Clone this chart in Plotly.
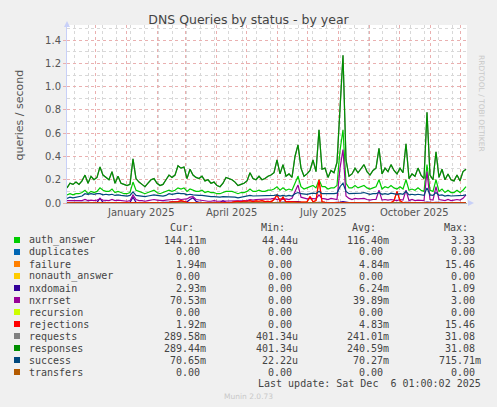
import pandas as pd
import plotly.graph_objects as go

# one sample every 3 days, Munin "by year" view (400 days)
dates = pd.date_range("2024-11-03", periods=134, freq="3D")

responses = [
    0.13, 0.17, 0.16, 0.18, 0.16, 0.19, 0.24, 0.17, 0.23, 0.20,
    0.22, 0.31, 0.24, 0.22, 0.20, 0.27, 0.17, 0.23, 0.17, 0.16,
    0.15, 0.16, 0.38, 0.21, 0.18, 0.16, 0.14, 0.17, 0.20, 0.21,
    0.17, 0.15, 0.16, 0.20, 0.24, 0.22, 0.24, 0.32, 0.30, 0.31,
    0.21, 0.29, 0.24, 0.22, 0.21, 0.23, 0.19, 0.20, 0.17, 0.18,
    0.15, 0.14, 0.17, 0.22, 0.21, 0.20, 0.18, 0.15, 0.16, 0.17,
    0.19, 0.26, 0.21, 0.20, 0.23, 0.20, 0.21, 0.23, 0.24, 0.26,
    0.37, 0.25, 0.33, 0.23, 0.25, 0.22, 0.40, 0.50, 0.30, 0.23,
    0.25, 0.28, 0.37, 0.27, 0.63, 0.29, 0.30, 0.22, 0.28, 0.26,
    0.35, 0.85, 1.27, 0.37, 0.23, 0.25, 0.30, 0.26, 0.30, 0.33,
    0.27, 0.24, 0.28, 0.30, 0.47, 0.25, 0.30, 0.27, 0.33, 0.28,
    0.25, 0.30, 0.26, 0.51, 0.21, 0.25, 0.23, 0.30, 0.24, 0.21,
    0.78, 0.24, 0.20, 0.44, 0.22, 0.29, 0.20, 0.25, 0.20, 0.19,
    0.24, 0.19, 0.27, 0.29,
]
requests = list(responses)  # drawn under responses, practically identical

auth_answer = [
    0.07, 0.08, 0.07, 0.08, 0.08, 0.09, 0.11, 0.08, 0.10, 0.09,
    0.10, 0.13, 0.11, 0.10, 0.10, 0.12, 0.09, 0.10, 0.09, 0.08,
    0.08, 0.09, 0.18, 0.11, 0.10, 0.09, 0.08, 0.09, 0.10, 0.11,
    0.09, 0.08, 0.09, 0.10, 0.11, 0.10, 0.11, 0.13, 0.12, 0.13,
    0.10, 0.12, 0.11, 0.10, 0.10, 0.11, 0.09, 0.10, 0.09, 0.09,
    0.08, 0.08, 0.09, 0.10, 0.10, 0.10, 0.09, 0.08, 0.09, 0.09,
    0.10, 0.12, 0.10, 0.10, 0.11, 0.10, 0.10, 0.11, 0.11, 0.12,
    0.14, 0.11, 0.13, 0.11, 0.12, 0.11, 0.17, 0.23, 0.14, 0.12,
    0.13, 0.14, 0.15, 0.13, 0.20, 0.14, 0.14, 0.12, 0.13, 0.13,
    0.15, 0.45, 0.63, 0.17, 0.13, 0.13, 0.15, 0.13, 0.14, 0.15,
    0.13, 0.12, 0.13, 0.14, 0.20, 0.12, 0.14, 0.13, 0.15, 0.13,
    0.12, 0.14, 0.12, 0.20, 0.11, 0.12, 0.11, 0.13, 0.11, 0.10,
    0.33, 0.11, 0.10, 0.20, 0.10, 0.12, 0.09, 0.11, 0.09, 0.09,
    0.11, 0.09, 0.11, 0.14,
]

success = [
    0.040, 0.050, 0.045, 0.050, 0.050, 0.060, 0.080, 0.075, 0.080, 0.075,
    0.080, 0.080, 0.070, 0.075, 0.070, 0.075, 0.065, 0.070, 0.065, 0.060,
    0.060, 0.065, 0.095, 0.065, 0.060, 0.060, 0.055, 0.060, 0.065, 0.070,
    0.065, 0.060, 0.060, 0.065, 0.080, 0.075, 0.080, 0.085, 0.080, 0.080,
    0.070, 0.075, 0.070, 0.065, 0.065, 0.065, 0.060, 0.060, 0.055, 0.055,
    0.050, 0.050, 0.055, 0.055, 0.055, 0.050, 0.050, 0.045, 0.050, 0.050,
    0.055, 0.065, 0.060, 0.060, 0.065, 0.060, 0.060, 0.060, 0.060, 0.065,
    0.070, 0.060, 0.065, 0.060, 0.065, 0.060, 0.080, 0.090, 0.080, 0.075,
    0.075, 0.080, 0.085, 0.080, 0.100, 0.080, 0.080, 0.075, 0.080, 0.080,
    0.085, 0.140, 0.170, 0.100, 0.080, 0.080, 0.085, 0.080, 0.085, 0.090,
    0.080, 0.075, 0.080, 0.080, 0.090, 0.075, 0.080, 0.075, 0.085, 0.080,
    0.075, 0.080, 0.075, 0.100, 0.070, 0.075, 0.070, 0.075, 0.070, 0.065,
    0.130, 0.070, 0.065, 0.090, 0.065, 0.070, 0.060, 0.065, 0.060, 0.060,
    0.065, 0.060, 0.065, 0.070,
]

nxrrset = [
    0.020, 0.020, 0.025, 0.020, 0.025, 0.020, 0.030, 0.020, 0.025, 0.020,
    0.025, 0.035, 0.025, 0.020, 0.020, 0.030, 0.020, 0.025, 0.020, 0.020,
    0.015, 0.020, 0.070, 0.030, 0.020, 0.020, 0.015, 0.020, 0.025, 0.030,
    0.025, 0.020, 0.020, 0.025, 0.030, 0.030, 0.030, 0.035, 0.030, 0.030,
    0.035, 0.050, 0.055, 0.030, 0.025, 0.020, 0.020, 0.015, 0.015, 0.020,
    0.015, 0.015, 0.020, 0.020, 0.020, 0.015, 0.020, 0.015, 0.020, 0.020,
    0.020, 0.030, 0.025, 0.030, 0.030, 0.030, 0.035, 0.030, 0.035, 0.040,
    0.030, 0.035, 0.030, 0.035, 0.030, 0.040, 0.100, 0.155, 0.050, 0.040,
    0.035, 0.040, 0.040, 0.035, 0.070, 0.040, 0.035, 0.030, 0.040, 0.035,
    0.030, 0.300, 0.460, 0.060, 0.040, 0.030, 0.040, 0.035, 0.040, 0.040,
    0.030, 0.025, 0.030, 0.030, 0.110, 0.025, 0.030, 0.025, 0.030, 0.025,
    0.020, 0.030, 0.025, 0.110, 0.020, 0.030, 0.020, 0.025, 0.020, 0.020,
    0.270, 0.030, 0.025, 0.140, 0.030, 0.025, 0.020, 0.030, 0.020, 0.025,
    0.030, 0.025, 0.040, 0.070,
]

nxdomain = [
    0.004, 0.005, 0.004, 0.006, 0.005, 0.004, 0.006, 0.005, 0.004, 0.005,
    0.006, 0.040, 0.006, 0.005, 0.004, 0.006, 0.005, 0.004, 0.005, 0.004,
    0.004, 0.005, 0.050, 0.006, 0.005, 0.004, 0.005, 0.004, 0.005, 0.006,
    0.005, 0.004, 0.005, 0.006, 0.008, 0.010, 0.008, 0.006, 0.008, 0.007,
    0.010, 0.030, 0.045, 0.015, 0.006, 0.005, 0.004, 0.005, 0.004, 0.004,
    0.005, 0.004, 0.020, 0.006, 0.004, 0.005, 0.004, 0.004, 0.005, 0.004,
    0.004, 0.005, 0.004, 0.005, 0.004, 0.005, 0.004, 0.004, 0.005, 0.004,
    0.005, 0.004, 0.005, 0.004, 0.004, 0.005, 0.008, 0.012, 0.005, 0.004,
    0.004, 0.005, 0.004, 0.004, 0.006, 0.004, 0.004, 0.003, 0.004, 0.004,
    0.004, 0.008, 0.012, 0.005, 0.004, 0.003, 0.004, 0.003, 0.004, 0.004,
    0.003, 0.003, 0.004, 0.003, 0.006, 0.003, 0.004, 0.003, 0.003, 0.004,
    0.003, 0.003, 0.004, 0.006, 0.003, 0.003, 0.004, 0.003, 0.003, 0.003,
    0.008, 0.003, 0.003, 0.005, 0.003, 0.003, 0.003, 0.004, 0.003, 0.003,
    0.003, 0.004, 0.003, 0.003,
]

rejections = [
    0.001, 0.002, 0.001, 0.001, 0.002, 0.001, 0.002, 0.001, 0.001, 0.002,
    0.001, 0.002, 0.001, 0.001, 0.002, 0.001, 0.001, 0.002, 0.001, 0.001,
    0.002, 0.001, 0.003, 0.001, 0.002, 0.001, 0.001, 0.002, 0.001, 0.001,
    0.002, 0.001, 0.002, 0.003, 0.005, 0.010, 0.008, 0.012, 0.020, 0.010,
    0.005, 0.004, 0.003, 0.002, 0.002, 0.003, 0.002, 0.002, 0.003, 0.002,
    0.002, 0.003, 0.002, 0.002, 0.003, 0.005, 0.012, 0.015, 0.010, 0.018,
    0.015, 0.020, 0.012, 0.018, 0.015, 0.020, 0.012, 0.015, 0.010, 0.030,
    0.070, 0.015, 0.050, 0.010, 0.012, 0.008, 0.010, 0.008, 0.006, 0.008,
    0.010, 0.055, 0.010, 0.020, 0.200, 0.010, 0.005, 0.004, 0.003, 0.004,
    0.003, 0.004, 0.005, 0.003, 0.002, 0.003, 0.002, 0.003, 0.002, 0.002,
    0.002, 0.003, 0.002, 0.002, 0.003, 0.002, 0.002, 0.003, 0.002, 0.020,
    0.100, 0.020, 0.003, 0.002, 0.002, 0.003, 0.002, 0.002, 0.003, 0.002,
    0.003, 0.002, 0.002, 0.003, 0.002, 0.002, 0.003, 0.002, 0.002, 0.002,
    0.002, 0.003, 0.002, 0.002,
]
failure = list(rejections)  # same counts as rejections

zeros = [0.0] * len(dates)

# legend table (text as printed by munin)
names = ["auth_answer", "duplicates", "failure", "nonauth_answer", "nxdomain",
         "nxrrset", "recursion", "rejections", "requests", "responses",
         "success", "transfers"]
colors = ["#00CC00", "#0066B3", "#FF8000", "#FFCC00", "#330099", "#990099",
          "#CCFF00", "#FF0000", "#808080", "#008F00", "#00487D", "#B35A00"]
cur = ["144.11m", "0.00", "1.94m", "0.00", "2.93m", "70.53m", "0.00", "1.92m",
       "289.58m", "289.44m", "70.65m", "0.00"]
mins = ["44.44u", "0.00", "0.00", "0.00", "0.00", "0.00", "0.00", "0.00",
        "401.34u", "401.34u", "22.22u", "0.00"]
avgs = ["116.40m", "0.00", "4.84m", "0.00", "6.24m", "39.89m", "0.00", "4.83m",
        "241.01m", "240.59m", "70.27m", "0.00"]
maxs = ["3.33", "0.00", "15.46", "0.00", "1.09", "3.00", "0.00", "15.46",
        "31.08", "31.08", "715.71m", "0.00"]

month_labels = ["January 2025", "April 2025", "July 2025", "October 2025"]
month_label_dates = ["2025-01-16", "2025-04-16", "2025-07-17", "2025-10-16"]

series = {
    "auth_answer": auth_answer, "duplicates": zeros, "failure": failure,
    "nonauth_answer": zeros, "nxdomain": nxdomain, "nxrrset": nxrrset,
    "recursion": zeros, "rejections": rejections, "requests": requests,
    "responses": responses, "success": success, "transfers": zeros,
}

# pixel helpers (plot area in the 497x407 picture)
L, R, T, B = 67, 467, 25, 203


def px(x):
    return (x - L) / (R - L)


def py(y):
    return (B - y) / (B - T)


fig = go.Figure()
for name, col in zip(names, colors):
    fig.add_trace(go.Scatter(x=dates, y=series[name], name=name, mode="lines",
                             line=dict(color=col, width=1.2), hoverinfo="skip"))

font = "DejaVu Sans"
mono = "DejaVu Sans Mono"
ann = []
shapes = []

# x labels in the middle of the month
for lab, d in zip(month_labels, month_label_dates):
    ann.append(dict(x=d, xref="x", y=py(212), yref="paper", text=lab,
                    showarrow=False, xanchor="center", yanchor="middle",
                    font=dict(family=font, size=10, color="#555")))

ann.append(dict(x=px(10), y=py(115), xref="paper", yref="paper",
                text="queries / second", textangle=-90, showarrow=False,
                font=dict(family=font, size=11, color="#555")))
ann.append(dict(x=px(488), y=py(53), xref="paper", yref="paper",
                text="RRDTOOL / TOBI OETIKER", textangle=90, showarrow=False,
                font=dict(family=font, size=7.5, color="#c8c8c8")))

# legend table
col_right = [208, 300, 391, 483]
hdr = ["Cur:", "Min:", "Avg:", "Max:"]
hdr_right = [196, 287, 378, 470]
for h, xr in zip(hdr, hdr_right):
    ann.append(dict(x=px(xr), y=py(227.5), xref="paper", yref="paper", text=h,
                    showarrow=False, xanchor="right", yanchor="middle",
                    font=dict(family=mono, size=10, color="#444")))

for i, name in enumerate(names):
    yc = 240 + 12 * i
    shapes.append(dict(type="rect", xref="paper", yref="paper",
                       x0=px(14), x1=px(20), y0=py(yc - 3), y1=py(yc + 3),
                       fillcolor=colors[i], line=dict(width=0)))
    ann.append(dict(x=px(26.5), y=py(yc), xref="paper", yref="paper", text=name,
                    showarrow=False, xanchor="left", yanchor="middle",
                    font=dict(family=mono, size=10, color="#444")))
    for vals, xr in zip([cur, mins, avgs, maxs], col_right):
        v = vals[i]
        x_end = xr if v[-1].isalpha() else xr - 6
        ann.append(dict(x=px(x_end), y=py(yc), xref="paper", yref="paper",
                        text=v, showarrow=False, xanchor="right",
                        yanchor="middle",
                        font=dict(family=mono, size=10, color="#444")))

ann.append(dict(x=px(483), y=py(383.5), xref="paper", yref="paper",
                text="Last update: Sat Dec&nbsp;&nbsp;6 01:00:02 2025",
                showarrow=False, xanchor="right", yanchor="middle",
                font=dict(family=mono, size=10, color="#444")))
ann.append(dict(x=px(248), y=py(396), xref="paper", yref="paper",
                text="Munin 2.0.73", showarrow=False, xanchor="center",
                yanchor="middle", font=dict(family=font, size=7.5, color="#c8c8c8")))

# rrdtool style axis arrows
shapes.append(dict(type="path", xref="paper", yref="paper",
                   path="M %f %f L %f %f L %f %f Z" % (px(64), py(27), px(70), py(27),
                                                       px(67), py(21)),
                   fillcolor="#c8d0f8", line=dict(width=0)))
shapes.append(dict(type="path", xref="paper", yref="paper",
                   path="M %f %f L %f %f L %f %f Z" % (px(468), py(200), px(468), py(206),
                                                       px(474), py(203)),
                   fillcolor="#c8d0f8", line=dict(width=0)))

fig.update_layout(
    width=497, height=407,
    margin=dict(l=L, r=497 - R, t=T, b=407 - B),
    paper_bgcolor="#F0F0F0", plot_bgcolor="#FFFFFF",
    showlegend=False,
    title=dict(text="DNS Queries by status - by year", xref="paper",
               xanchor="center", y=1 - 20 / 407, yanchor="middle",
               font=dict(family=font, size=12.5, color="#444")),
    annotations=ann, shapes=shapes,
)
fig.layout.title.x = (248.5 - L) / (R - L)

fig.update_xaxes(
    type="date", range=["2024-11-03", "2025-12-08"],
    tick0="2024-12-01", dtick="M1", showticklabels=False, ticks="",
    showgrid=True, gridcolor="#eab0b0", griddash="dot", gridwidth=1,
    minor=dict(tick0="2024-11-10", dtick=14 * 86400000, showgrid=True,
               gridcolor="#d8d8d8", griddash="dot", gridwidth=1),
    showline=True, linecolor="#b0b0b0", linewidth=1, zeroline=False,
)
fig.update_yaxes(
    range=[0, 1.5305], tick0=0, dtick=0.2, tickformat=".1f",
    tickfont=dict(family=font, size=10, color="#555"),
    ticks="outside", ticklen=3, tickcolor="#eab0b0",
    showgrid=True, gridcolor="#eab0b0", griddash="dot", gridwidth=1,
    minor=dict(dtick=0.1, showgrid=True, gridcolor="#d8d8d8",
               griddash="dot", gridwidth=1),
    showline=True, linecolor="#c8d0f8", linewidth=1, zeroline=False,
)

# the page body has an 8px default margin; drop it so the figure fills the window
fig.write_html("out.html", config={"displayModeBar": False, "staticPlot": True},
               post_script="document.body.style.margin='0';")
